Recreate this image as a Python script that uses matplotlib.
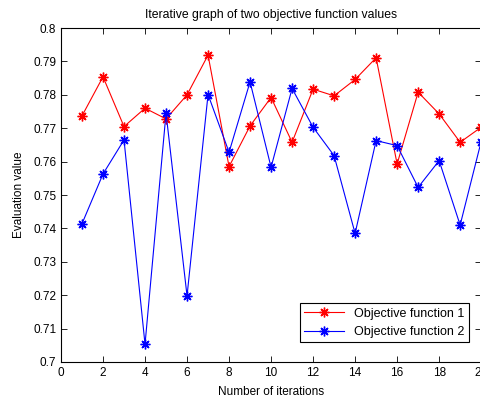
import matplotlib
matplotlib.use('Agg')
import matplotlib.pyplot as plt
from matplotlib.ticker import FormatStrFormatter

iterations = list(range(1, 21))
obj1 = [0.7737, 0.7854, 0.7705, 0.7760, 0.7728, 0.7800, 0.7919, 0.7585, 0.7707, 0.7792,
        0.7658, 0.7817, 0.7797, 0.7846, 0.7911, 0.7593, 0.7808, 0.7743, 0.7658, 0.7703]
obj2 = [0.7414, 0.7563, 0.7665, 0.7053, 0.7745, 0.7198, 0.7801, 0.7628, 0.7839, 0.7583,
        0.7819, 0.7703, 0.7618, 0.7385, 0.7663, 0.7648, 0.7523, 0.7603, 0.7410, 0.7660]

plt.rcParams['font.family'] = ['Liberation Sans', 'DejaVu Sans']
plt.rcParams['font.size'] = 8.5

fig = plt.figure(figsize=(4.81, 3.98), dpi=100)
ax = fig.add_axes([0.1268, 0.0905, 0.8735, 0.839])

# matlab style asterisk marker
star = (8, 2, 0)
ax.plot(iterations, obj1, color='r', marker=star, markersize=7, markeredgewidth=1,
        linewidth=0.8, label='Objective function 1')
ax.plot(iterations, obj2, color='b', marker=star, markersize=7, markeredgewidth=1,
        linewidth=0.8, label='Objective function 2')

ax.set_xlim(0, 20)
ax.set_ylim(0.7, 0.8)
ax.set_xticks(range(0, 21, 2))
ax.set_yticks([0.7 + 0.01 * i for i in range(11)])
ax.yaxis.set_major_formatter(FormatStrFormatter('%g'))
ax.tick_params(direction='in', top=True, right=True, length=4, width=0.6)
for s in ax.spines.values():
    s.set_linewidth(0.8)

ax.set_title('Iterative graph of two objective function values', fontsize=8.8, pad=7)
ax.set_xlabel('Number of iterations', labelpad=5)
ax.set_ylabel('Evaluation value', labelpad=6)

leg = ax.legend(loc='lower right', bbox_to_anchor=(0.971, 0.059), borderaxespad=0,
                fancybox=False, edgecolor='black', framealpha=1, fontsize=9,
                handlelength=3.2, borderpad=0.35)
leg.get_frame().set_linewidth(0.8)

fig.savefig('out.png', dpi=100)
